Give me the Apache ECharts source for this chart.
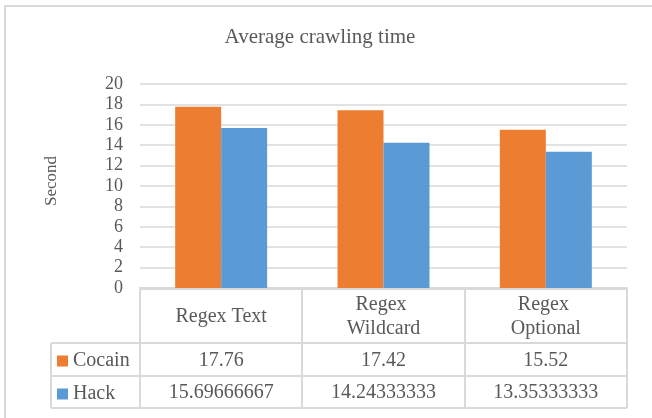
<!DOCTYPE html>
<html>
<head>
<meta charset="utf-8">
<script src="https://cdn.jsdelivr.net/npm/echarts@6/dist/echarts.min.js"></script>
<style>
html,body{margin:0;padding:0;background:#fff;}
#chart{width:652px;height:418px;}
</style>
</head>
<body>
<div id="chart"></div>
<script>
var categories = ['Regex Text', 'Regex Wildcard', 'Regex Optional'];
var seriesNames = ['Cocain', 'Hack'];
var cocainValues = [17.76, 17.42, 15.52];
var hackValues = [15.69666667, 14.24333333, 13.35333333];
var yTicks = [0, 2, 4, 6, 8, 10, 12, 14, 16, 18, 20];

var FONT = 'Liberation Serif';
var TXT = '#595959';
var LINE = '#d9d9d9';
var ORANGE = '#ED7D31';
var BLUE = '#5B9BD5';

var chart = echarts.init(document.getElementById('chart'), null, {renderer: 'canvas'});

var gridLeft = 140, gridRight = 627, gridTop = 84, gridBottom = 288;
var tableTop = 289, row1 = 343, row2 = 376, tableBottom = 408, legendLeft = 51;

chart.setOption({
  animation: false,
  backgroundColor: '#fff',
  title: {
    text: 'Average crawling time',
    left: 320,
    top: 27,
    padding: 0,
    textAlign: 'center',
    textStyle: {fontFamily: FONT, fontSize: 21, fontWeight: 'normal', color: TXT}
  },
  legend: {
    orient: 'vertical',
    left: 57,
    top: 351,
    padding: 0,
    itemWidth: 11,
    itemHeight: 11,
    itemGap: 13,
    icon: 'rect',
    data: seriesNames,
    textStyle: {fontFamily: FONT, fontSize: 20, color: TXT, lineHeight: 20}
  },
  grid: {left: gridLeft, right: 652 - gridRight, top: gridTop, bottom: 418 - gridBottom, containLabel: false},
  xAxis: {
    type: 'category',
    data: categories,
    axisTick: {show: false},
    axisLine: {show: true, lineStyle: {color: LINE, width: 2}},
    axisLabel: {
      interval: 0,
      fontFamily: FONT, fontSize: 20, color: TXT, lineHeight: 24,
      margin: 29, verticalAlign: 'middle', width: 110, overflow: 'break', align: 'center'
    }
  },
  yAxis: {
    type: 'value',
    min: yTicks[0],
    max: yTicks[yTicks.length - 1],
    interval: yTicks[1] - yTicks[0],
    name: 'Second',
    nameLocation: 'middle',
    nameGap: 80,
    nameRotate: 90,
    nameTextStyle: {fontFamily: FONT, fontSize: 17, color: TXT, padding: [0, 0, 0, 10]},
    axisLine: {show: false},
    axisTick: {show: false},
    axisLabel: {fontFamily: FONT, fontSize: 18, color: TXT, margin: 17},
    splitLine: {lineStyle: {color: LINE, width: 1.5}}
  },
  series: [
    {name: seriesNames[0], type: 'bar', data: cocainValues, barWidth: 46, barGap: '0%', itemStyle: {color: ORANGE}},
    {name: seriesNames[1], type: 'bar', data: hackValues, barWidth: 46, barGap: '0%', itemStyle: {color: BLUE}}
  ]
});

// Build the data table below the axis
var graphics = [];
graphics.push({type: 'rect', shape: {x: 5, y: 6, width: 700, height: 500}, style: {fill: 'none', stroke: LINE, lineWidth: 2}, silent: true, z: 0});

function hLine(x1, x2, y) {
  graphics.push({type: 'line', shape: {x1: x1, y1: y, x2: x2, y2: y}, style: {stroke: LINE, lineWidth: 2}, silent: true});
}
function vLine(x, y1, y2) {
  graphics.push({type: 'line', shape: {x1: x, y1: y1, x2: x, y2: y2}, style: {stroke: LINE, lineWidth: 2}, silent: true});
}
hLine(gridLeft, gridRight, tableTop);
hLine(legendLeft, gridRight, row1);
hLine(legendLeft, gridRight, row2);
hLine(legendLeft, gridRight, tableBottom);
vLine(legendLeft, row1, tableBottom);
var catW = (gridRight - gridLeft) / categories.length;
for (var i = 0; i <= categories.length; i++) {
  vLine(Math.round(gridLeft + i * catW), tableTop, tableBottom);
}
var rowsData = [cocainValues, hackValues];
var rowCenters = [(row1 + row2) / 2 + 1.5, (row2 + tableBottom) / 2 + 1];
for (var r = 0; r < rowsData.length; r++) {
  for (var c = 0; c < categories.length; c++) {
    var px = chart.convertToPixel({xAxisIndex: 0}, categories[c]);
    graphics.push({
      type: 'text',
      x: px, y: rowCenters[r],
      style: {text: String(rowsData[r][c]), fontFamily: FONT, fontSize: 20, fill: TXT, textAlign: 'center', textVerticalAlign: 'middle'},
      silent: true
    });
  }
}
chart.setOption({graphic: graphics});
</script>
</body>
</html>
